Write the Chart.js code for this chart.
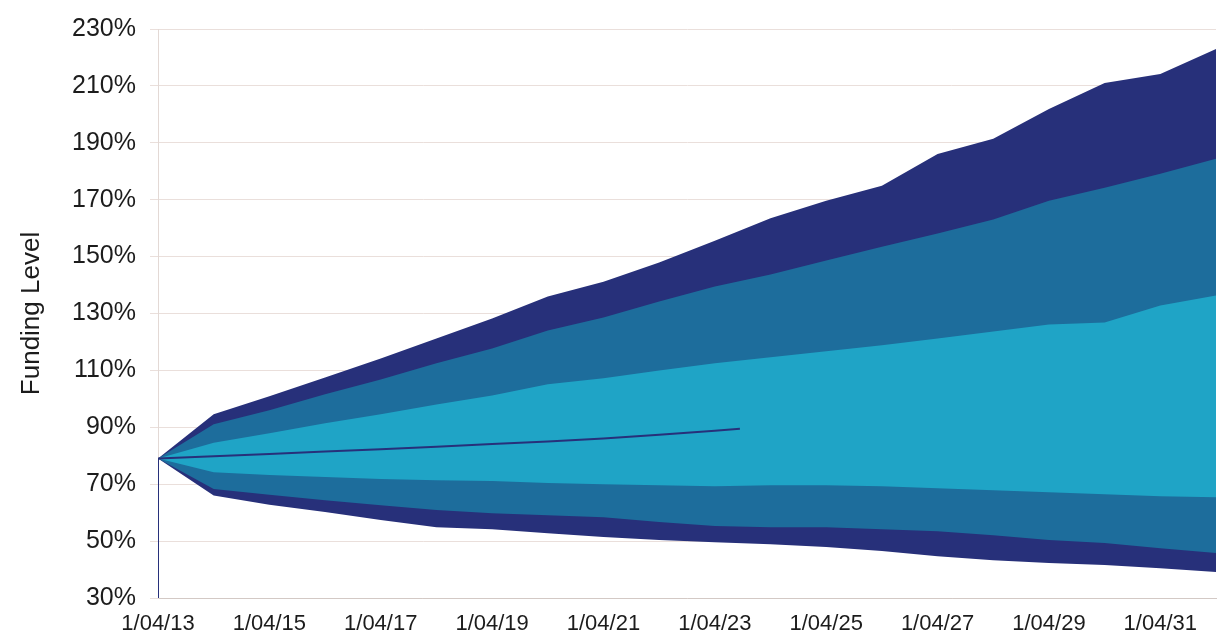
<!DOCTYPE html>
<html>
<head>
<meta charset="utf-8">
<title>Funding Level projection</title>
<script src="https://cdn.jsdelivr.net/npm/chart.js@4/dist/chart.umd.min.js"></script>
<style>
  html, body { margin: 0; padding: 0; background: #ffffff; }
  #wrap { width: 1218px; height: 634px; }
</style>
</head>
<body>
<div id="wrap"><canvas id="fan" width="1218" height="634"></canvas></div>
<script>
// Projection years (valuation date 1 April each year)
const years = [2013, 2014, 2015, 2016, 2017, 2018, 2019, 2020, 2021, 2022,
               2023, 2024, 2025, 2026, 2027, 2028, 2029, 2030, 2031, 2032];

// Outer band (dark navy) upper / lower bounds, funding level %
const outerHigh = [79, 94.6, 100.9, 107.5, 114.2, 121.2, 128.2, 136.0, 141.2, 147.9,
                   155.6, 163.5, 169.6, 174.9, 186.1, 191.4, 201.9, 211.0, 214.2, 223.0];
const outerLow  = [79, 66.0, 62.8, 60.2, 57.4, 54.9, 54.2, 52.8, 51.4, 50.4,
                   49.6, 48.9, 47.9, 46.5, 44.7, 43.3, 42.3, 41.6, 40.5, 39.1];

// Middle band (mid blue) upper / lower bounds
const middleHigh = [79, 91.1, 96.0, 101.6, 106.8, 112.5, 117.7, 124.0, 128.6, 134.2,
                    139.5, 143.7, 148.6, 153.5, 158.1, 163.0, 169.6, 174.2, 179.1, 184.4];
const middleLow  = [79, 68.3, 66.3, 64.4, 62.6, 60.9, 59.8, 59.1, 58.4, 56.7,
                    55.3, 54.9, 54.9, 54.2, 53.5, 52.1, 50.4, 49.3, 47.5, 45.8];

// Inner band (light blue) upper / lower bounds
const innerHigh = [79, 84.6, 87.9, 91.4, 94.6, 98.0, 101.2, 105.1, 107.2, 110.0,
                   112.5, 114.6, 116.7, 118.8, 121.2, 123.7, 126.1, 126.8, 132.8, 136.3];
const innerLow  = [79, 74.2, 73.2, 72.5, 71.8, 71.4, 71.1, 70.4, 70.0, 69.6,
                   69.3, 69.6, 69.6, 69.3, 68.6, 67.9, 67.2, 66.5, 65.8, 65.4];

// Expected path (drops to the axis floor at the start date)
const pathYears  = [2013, 2013, 2014, 2015, 2016, 2017, 2018, 2019, 2020, 2021, 2022, 2023, 2023.45];
const pathValues = [30, 79, 79.8, 80.6, 81.5, 82.3, 83.2, 84.1, 85.0, 86.1, 87.4, 88.8, 89.5];

// Labelled ticks
const xTickYears = [2013, 2015, 2017, 2019, 2021, 2023, 2025, 2027, 2029, 2031];
const yTicks = [30, 50, 70, 90, 110, 130, 150, 170, 190, 210, 230];

const NAVY = '#27307a';
const MID = '#1d6d9c';
const LIGHT = '#1fa4c6';
const GRID = '#eadfdb';
const TEXT = '#1c1c1c';
const FONT = "'Liberation Sans', Arial, sans-serif";

const pts = (xs, ys) => xs.map((x, i) => ({ x: x, y: ys[i] }));

function band(values, color, fillTarget, order) {
  return {
    data: pts(years, values),
    borderWidth: 0,
    borderColor: color,
    backgroundColor: color,
    pointRadius: 0,
    tension: 0,
    fill: fillTarget,
    order: order
  };
}

new Chart(document.getElementById('fan'), {
  type: 'line',
  data: {
    datasets: [
      band(outerHigh, NAVY, 1, 4),
      band(outerLow, NAVY, false, 4),
      band(middleHigh, MID, 3, 3),
      band(middleLow, MID, false, 3),
      band(innerHigh, LIGHT, 5, 2),
      band(innerLow, LIGHT, false, 2),
      {
        data: pts(pathYears, pathValues),
        borderColor: NAVY,
        borderWidth: 2,
        pointRadius: 0,
        tension: 0,
        fill: false,
        order: 1
      }
    ]
  },
  options: {
    responsive: false,
    animation: false,
    events: [],
    layout: { padding: { top: 28, right: 2, left: 0, bottom: 0 } },
    plugins: { legend: { display: false }, tooltip: { enabled: false } },
    scales: {
      x: {
        type: 'linear',
        min: 2013,
        max: 2032,
        grid: { display: false, drawTicks: false },
        border: { display: true, color: '#d3c9c5', width: 1 },
        afterBuildTicks: (s) => { s.ticks = xTickYears.map(v => ({ value: v })); },
        afterFit: (s) => { s.height = 36; },
        ticks: {
          padding: 13,
          maxRotation: 0,
          autoSkip: false,
          color: TEXT,
          font: { family: FONT, size: 22 },
          callback: (v) => '1/04/' + String(v % 100).padStart(2, '0')
        }
      },
      y: {
        min: 30,
        max: 230,
        afterBuildTicks: (s) => { s.ticks = yTicks.map(v => ({ value: v })); },
        afterFit: (s) => { s.width = 158; },
        grid: { color: GRID, lineWidth: 1, tickLength: 8 },
        border: { display: true, color: '#e3d9d5', width: 1 },
        ticks: {
          padding: 14,
          color: TEXT,
          font: { family: FONT, size: 25 },
          callback: (v) => v + '%'
        },
        title: {
          display: true,
          text: 'Funding Level',
          color: TEXT,
          font: { family: FONT, size: 26 },
          padding: { top: 16, bottom: 0 }
        }
      }
    }
  }
});
</script>
</body>
</html>
